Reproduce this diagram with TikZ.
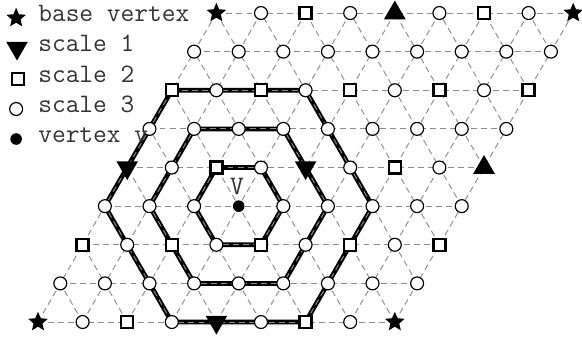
\documentclass[tikz,border=0pt]{standalone}
\usepackage{fontspec}
\usepackage{tikz}
\usetikzlibrary{shapes.geometric}

\tikzset{
  latline/.style={black!45, line width=0.6pt, dash pattern=on 3.8pt off 2.6pt},
  hexline/.style={black, line width=3pt, line join=miter},
  basevx/.style={star, star points=5, star point ratio=2.2, fill=black, inner sep=0, minimum size=0.46cm},
  sone/.style={regular polygon, regular polygon sides=3, fill=black, inner sep=0, minimum size=0.56cm, shape border rotate=180},
  soneup/.style={regular polygon, regular polygon sides=3, fill=black, inner sep=0, minimum size=0.56cm},
  stwo/.style={rectangle, draw=black, line width=1.5pt, fill=white, inner sep=0, minimum size=0.27cm},
  sthree/.style={circle, draw=black, line width=0.75pt, fill=white, inner sep=0, minimum size=0.29cm},
  vdot/.style={circle, fill=black, inner sep=0, minimum size=0.26cm},
  lbl/.style={font=\fontsize{17}{20}\selectfont\ttfamily, text=black!80, inner sep=0}
}

\begin{document}
\begin{tikzpicture}
\useasboundingbox (-0.852,-0.336) rectangle (12.197,7.220);

% lattice points
\foreach \i in {0,...,8}
  \foreach \j in {0,...,8}
    \coordinate (p-\i-\j) at (\i+0.5*\j, 0.866*\j);

% hexagons round v
\draw[hexline] (p-4-3) -- (p-3-4) -- (p-2-4) -- (p-2-3) -- (p-3-2) -- (p-4-2) -- cycle;
\draw[hexline] (p-5-3) -- (p-3-5) -- (p-1-5) -- (p-1-3) -- (p-3-1) -- (p-5-1) -- cycle;
\draw[hexline] (p-6-3) -- (p-3-6) -- (p-0-6) -- (p-0-3) -- (p-3-0) -- (p-6-0) -- cycle;

% lattice lines
\foreach \k in {0,...,8} {
  \draw[latline] (p-0-\k) -- (p-8-\k);
  \draw[latline] (p-\k-0) -- (p-\k-8);
}
\foreach \k in {1,...,7}
  \draw[latline] (p-\k-0) -- (p-0-\k);
\foreach \k in {0,...,7}
  \draw[latline] (p-8-\k) -- (p-\k-8);

% scale 3
\foreach \i in {0,...,8}
  \foreach \j in {0,...,8} {
    \pgfmathtruncatemacro\k{(mod(\i,2)+mod(\j,2))*((\i!=3)||(\j!=3))}
    \ifnum\k>0 \node[sthree] (m-\i-\j) at (p-\i-\j) {};\fi
  }
% scale 2
\foreach \i/\j in {2/0,6/0,0/2,2/2,4/2,6/2,8/2,2/4,6/4,0/6,2/6,4/6,6/6,8/6,2/8,6/8}
  \node[stwo] (m-\i-\j) at (p-\i-\j) {};
% scale 1
\foreach \i/\j in {4/0,0/4,4/4}
  \node[sone] (m-\i-\j) at (p-\i-\j) {};
\foreach \i/\j in {8/4,4/8}
  \node[soneup] (m-\i-\j) at (p-\i-\j) {};
% base vertices
\foreach \i/\j in {0/0,8/0,0/8,8/8}
  \node[basevx] (m-\i-\j) at (p-\i-\j) {};

% vertex v
\node[vdot] (v) at (p-3-3) {};
\node[lbl] (vname) at ([shift={(-0.04,0.43)}]v.center) {V};

% legend
\node[basevx] (k-base) at (-0.49,6.816) {};
\node[lbl, anchor=mid west] (t-base) at (0,6.816) {base vertex};
\node[sone] (k-one) at (-0.47,6.143) {};
\node[lbl, anchor=mid west] (t-one) at (0,6.143) {scale 1};
\node[stwo] (k-two) at (-0.45,5.448) {};
\node[lbl, anchor=mid west] (t-two) at (0,5.448) {scale 2};
\node[sthree] (k-three) at (-0.49,4.776) {};
\node[lbl, anchor=mid west] (t-three) at (0,4.776) {scale 3};
\node[vdot] (k-v) at (-0.49,4.103) {};
\node[lbl, anchor=mid west] (t-v) at (0,4.103) {vertex v};
\end{tikzpicture}
\end{document}
